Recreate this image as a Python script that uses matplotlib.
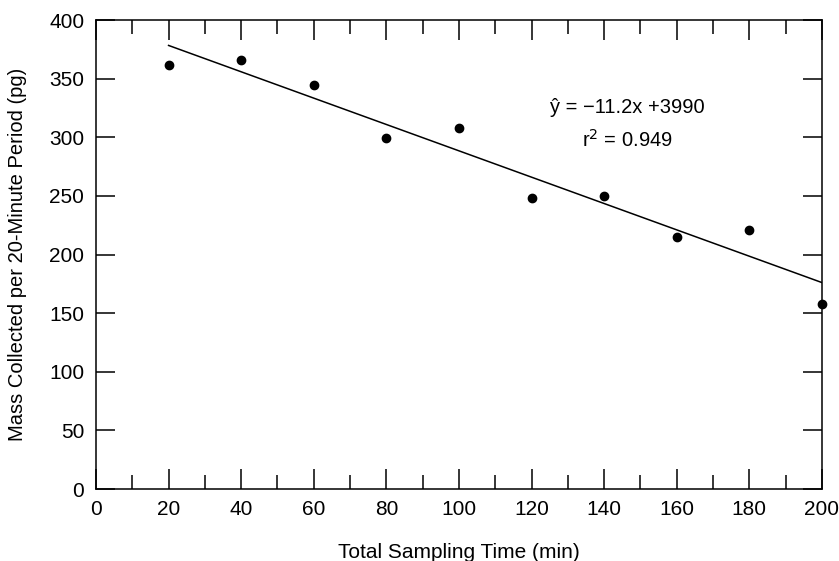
import numpy as np
import matplotlib
matplotlib.use("Agg")
import matplotlib.pyplot as plt
from matplotlib.ticker import MultipleLocator

plt.rcParams['font.family'] = ['Liberation Sans', 'DejaVu Sans']

time_min = [20, 40, 60, 80, 100, 120, 140, 160, 180, 200]
mass_pg = [362, 366, 345, 299, 308, 248, 250, 215, 221, 158]
eq_text = "ŷ = \u221211.2x +3990"
r2_text = "r$^2$ = 0.949"

fig = plt.figure(figsize=(8.39, 5.61), dpi=100)
ax = fig.add_axes([0.1144, 0.1283, 0.8653, 0.8360])

x = np.array(time_min, dtype=float)
y = np.array(mass_pg, dtype=float)
slope, intercept = np.polyfit(x, y, 1)
xl = np.array([x.min(), x.max()])
ax.plot(xl, slope * xl + intercept, color='black', lw=1.1)
ax.plot(x, y, 'o', color='black', ms=6, clip_on=False, zorder=5)

ax.set_xlim(0, 200)
ax.set_ylim(0, 400)
ax.xaxis.set_major_locator(MultipleLocator(20))
ax.xaxis.set_minor_locator(MultipleLocator(10))
ax.yaxis.set_major_locator(MultipleLocator(50))
ax.tick_params(axis='x', which='major', direction='in', length=14.5, width=1.1, top=True, labelsize=15, pad=8)
ax.tick_params(axis='x', which='minor', direction='in', length=10, width=1.1, top=True)
ax.tick_params(axis='y', which='major', direction='in', length=14, width=1.1, right=True, labelsize=15, pad=8.5)
for s in ax.spines.values():
    s.set_linewidth(1.1)

ax.set_xlabel("Total Sampling Time (min)", fontsize=15, labelpad=17)
ax.set_ylabel("Mass Collected per 20-Minute Period (pg)", fontsize=14.5, labelpad=16)

ax.text(146.3, 325.8, eq_text, ha='center', va='center', fontsize=14.5)
ax.text(146.3, 297.7, r2_text, ha='center', va='center', fontsize=14.5)

fig.savefig("out.png", dpi=100)
